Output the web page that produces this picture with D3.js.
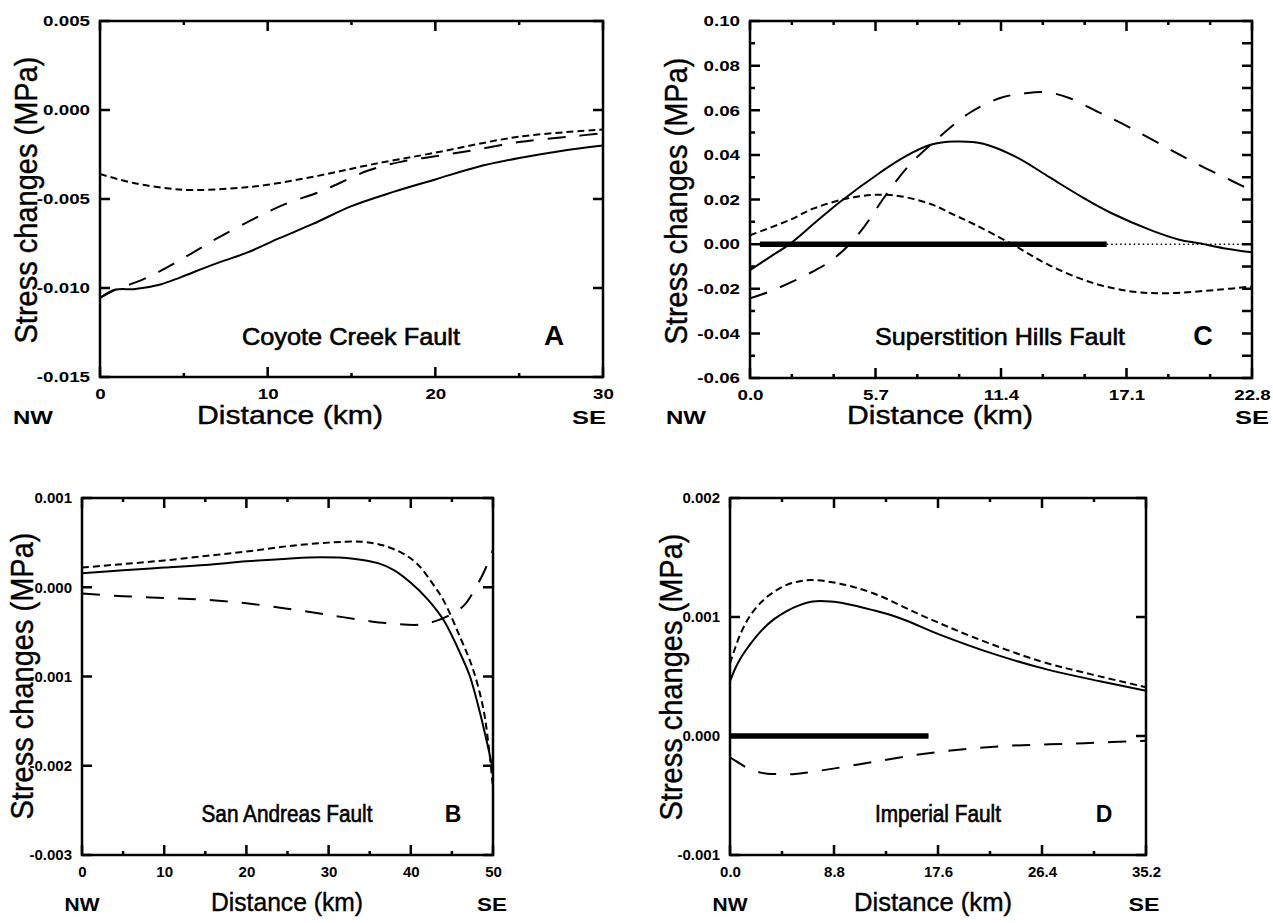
<!DOCTYPE html>
<html>
<head>
<meta charset="utf-8">
<script src="https://cdn.jsdelivr.net/npm/d3@7"></script>
<style>
  body { margin: 0; background: #fff; }
  svg text { font-family: "Liberation Sans", Arial, Helvetica, sans-serif; fill: #000; }
</style>
</head>
<body>
<svg id="fig" width="1273" height="923"></svg>
<script>
// ---- data: [distance km, stress change MPa] ----
const coyoteSolid = [[0,-0.01056],[0.9,-0.0101],[2.1,-0.01006],[3.6,-0.0098],[4.8,-0.0094],[6.7,-0.0087],[8.8,-0.0080],[10.7,-0.0072],[12.7,-0.0064],[15,-0.0054],[17.5,-0.0046],[20,-0.0039],[22.5,-0.0032],[25,-0.0027],[27.5,-0.0023],[30,-0.0020]];
const coyoteShort = [[0,-0.0036],[2,-0.0041],[4,-0.0044],[5.5,-0.0045],[8,-0.0044],[10,-0.0042],[13,-0.0037],[16,-0.0031],[20,-0.0024],[25,-0.0015],[30,-0.0011]];
const coyoteLong = [[0,-0.01056],[0.9,-0.0101],[2.2,-0.00966],[3.5,-0.0091],[5.2,-0.0082],[7,-0.0072],[9.2,-0.0061],[11,-0.0053],[13.1,-0.0046],[14.3,-0.0041],[16,-0.0034],[18,-0.0029],[20,-0.0026],[22,-0.0023],[25,-0.0018],[28,-0.0015],[30,-0.0013]];

const superSolid = [[0,-0.0117],[0.9,-0.0058],[1.8,0],[3,0.01],[4.1,0.019],[5.9,0.032],[7,0.039],[8.2,0.0445],[9.3,0.046],[10.6,0.045],[12.1,0.039],[13.6,0.030],[15.1,0.021],[16.5,0.0135],[18.2,0.0063],[19.5,0.002],[20.4,0.0004],[21.5,-0.0018],[22.8,-0.0037]];
const superShort = [[0,0.004],[1.8,0.0108],[2.9,0.016],[4.7,0.021],[6.4,0.022],[8.2,0.018],[9.1,0.0139],[10.2,0.0088],[11.9,0],[13.6,-0.0095],[15.6,-0.0175],[17.4,-0.0213],[18.9,-0.022],[21.2,-0.0205],[22.8,-0.019]];
const superLong = [[0,-0.0243],[0.8,-0.0216],[2,-0.0165],[3,-0.0115],[3.6,-0.008],[4.4,-0.0013],[5.2,0.008],[6.1,0.021],[7.2,0.035],[8.6,0.048],[10,0.059],[11.4,0.0656],[12.5,0.0676],[13.5,0.068],[14.5,0.0655],[15.8,0.0593],[17.1,0.053],[18.6,0.045],[20.2,0.0365],[21.9,0.0283],[22.8,0.024]];
const superRupture = [0.45, 16.2];
const superDotted = [16.2, 22.8];

const andreasSolid = [[0,0.000156],[5,0.00019],[10,0.00022],[15,0.00025],[20,0.00029],[25,0.00032],[29,0.000335],[33,0.00032],[36,0.00027],[38,0.00019],[40,0.00005],[42,-0.00013],[44,-0.00037],[46.4,-0.00082],[47.2,-0.001],[48.4,-0.0014],[49.3,-0.00175],[50,-0.00205]];
const andreasShort = [[0,0.00022],[5,0.00026],[10,0.0003],[15,0.00035],[20,0.0004],[25,0.00046],[30,0.0005],[34,0.00051],[36.6,0.00047],[39,0.00038],[40.7,0.00027],[42.5,0.00006],[44,-0.00015],[46,-0.00056],[47.5,-0.0009],[48.8,-0.00135],[49.5,-0.0018],[50,-0.00225]];
const andreasLong = [[0,-0.00007],[5,-0.0001],[10,-0.00012],[15,-0.00014],[20,-0.00018],[25,-0.00024],[30,-0.00031],[35,-0.00038],[38,-0.00041],[41,-0.00042],[43,-0.00038],[45,-0.0003],[46.5,-0.0002],[47.8,-0.00002],[49,0.00019],[50,0.00042]];

const imperialSolid = [[0,0.00046],[0.5,0.00058],[1,0.00067],[1.7,0.00077],[2.7,0.00089],[3.7,0.00098],[4.8,0.00105],[5.9,0.0011],[7,0.00113],[8.5,0.00113],[9.9,0.00111],[12,0.00106],[14.4,0.00099],[17.8,0.00085],[22.3,0.00069],[26.8,0.00056],[31.3,0.00046],[35.2,0.00038]];
const imperialShort = [[0,0.00061],[0.85,0.00085],[1.7,0.00101],[2.7,0.00113],[3.7,0.00121],[4.8,0.00127],[5.9,0.0013],[7,0.00131],[9.3,0.00128],[12.1,0.0012],[16.3,0.00101],[20.6,0.00083],[26.2,0.00063],[30.5,0.00052],[35.2,0.00041]];
const imperialLong = [[0,-0.00018],[0.8,-0.00023],[1.5,-0.00027],[2.7,-0.00031],[4,-0.00032],[5.5,-0.00032],[7,-0.0003],[9,-0.00027],[12,-0.00022],[15,-0.00017],[18,-0.00013],[21,-0.0001],[24,-0.00008],[27,-0.00007],[30,-0.00006],[35.2,-0.00004]];
const imperialRupture = [0, 16.8];

// ---- ticks ----
const coyoteXTicks = [0, 10, 20, 30];
const coyoteXMinor = [5, 15, 25];
const coyoteYTicks = [-0.015, -0.010, -0.005, 0.000, 0.005];
const coyoteYLabels = ['-0.015', '-0.010', '-0.005', '0.000', '0.005'];

const superXTicks = [0, 5.7, 11.4, 17.1, 22.8];
const superXLabels = ['0.0', '5.7', '11.4', '17.1', '22.8'];
const superXMinor = [1.9, 3.8, 7.6, 9.5, 13.3, 15.2, 19.0, 20.9];
const superYTicks = [-0.06, -0.04, -0.02, 0.00, 0.02, 0.04, 0.06, 0.08, 0.10];
const superYLabels = ['-0.06', '-0.04', '-0.02', '0.00', '0.02', '0.04', '0.06', '0.08', '0.10'];
const superYMinor = [-0.05, -0.03, -0.01, 0.01, 0.03, 0.05, 0.07, 0.09];

const andreasXTicks = [0, 10, 20, 30, 40, 50];
const andreasXMinor = [5, 15, 25, 35, 45];
const andreasYTicks = [-0.003, -0.002, -0.001, 0.000, 0.001];
const andreasYLabels = ['-0.003', '-0.002', '-0.001', '0.000', '0.001'];

const imperialXTicks = [0, 8.8, 17.6, 26.4, 35.2];
const imperialXLabels = ['0.0', '8.8', '17.6', '26.4', '35.2'];
const imperialXMinor = [4.4, 13.2, 22.0, 30.8];
const imperialYTicks = [-0.001, 0.000, 0.001, 0.002];
const imperialYLabels = ['-0.001', '0.000', '0.001', '0.002'];

const faultNames = ['Coyote Creek Fault', 'Superstition Hills Fault', 'San Andreas Fault', 'Imperial Fault'];
const panelLetters = ['A', 'C', 'B', 'D'];

// ---- layout ----
const svg = d3.select('#fig');

const panels = [
  { key: 'a', left: 100, top: 21, right: 603, bottom: 377, xDomain: [0, 30], yDomain: [-0.015, 0.005],
    xTicks: coyoteXTicks, xLabels: coyoteXTicks.map(String), xMinor: coyoteXMinor,
    yTicks: coyoteYTicks, yLabels: coyoteYLabels, yMinor: [],
    series: [coyoteSolid, coyoteShort, coyoteLong], stretch: 1.25,
    name: faultNames[0], nameX: 351, nameLen: 218, nameSize: 24, letter: panelLetters[0], letterX: 554, letterSize: 28, textY: 345,
    yLabX: 37, yLabY: 200, xLabY: 424, nwX: 33, distX: 290, seX: 589, distLen: 186, nwLen: 40, seLen: 34 },
  { key: 'c', left: 750, top: 21, right: 1252, bottom: 378, xDomain: [0, 22.8], yDomain: [-0.06, 0.10],
    xTicks: superXTicks, xLabels: superXLabels, xMinor: superXMinor,
    yTicks: superYTicks, yLabels: superYLabels, yMinor: superYMinor, rightMinorLong: true,
    series: [superSolid, superShort, superLong], stretch: 1.25,
    rupture: superRupture, dotted: superDotted,
    name: faultNames[1], nameX: 1000, nameLen: 250, nameSize: 24, letter: panelLetters[1], letterX: 1203, letterSize: 27, textY: 345,
    yLabX: 687, yLabY: 201, xLabY: 424, nwX: 686, distX: 940, seX: 1252, distLen: 186, nwLen: 40, seLen: 34 },
  { key: 'b', left: 82, top: 498, right: 493, bottom: 855, xDomain: [0, 50], yDomain: [-0.003, 0.001],
    xTicks: andreasXTicks, xLabels: andreasXTicks.map(String), xMinor: andreasXMinor,
    yTicks: andreasYTicks, yLabels: andreasYLabels, yMinor: [],
    series: [andreasSolid, andreasShort, andreasLong], stretch: 1,
    name: faultNames[2], nameX: 287, nameLen: 171, nameSize: 23, letter: panelLetters[2], letterX: 453, letterSize: 23, textY: 822,
    yLabX: 33, yLabY: 676, xLabY: 911, nwX: 82, distX: 287, seX: 492, distLen: 152, nwLen: 35, seLen: 30 },
  { key: 'd', left: 730, top: 498, right: 1146, bottom: 855, xDomain: [0, 35.2], yDomain: [-0.001, 0.002],
    xTicks: imperialXTicks, xLabels: imperialXLabels, xMinor: imperialXMinor,
    yTicks: imperialYTicks, yLabels: imperialYLabels, yMinor: [],
    series: [imperialSolid, imperialShort, imperialLong], stretch: 1,
    rupture: imperialRupture,
    name: faultNames[3], nameX: 938, nameLen: 126, nameSize: 23, letter: panelLetters[3], letterX: 1104, letterSize: 23, textY: 822,
    yLabX: 682, yLabY: 677, xLabY: 911, nwX: 730, distX: 933, seX: 1144, distLen: 158, nwLen: 35, seLen: 31 }
];

const dashes = [null, '7,4', '18,14'];

const squeeze = (sel, k) => sel.each(function () {
  if (k === 1) return;
  const w = this.getComputedTextLength();
  d3.select(this).attr('textLength', w * k).attr('lengthAdjust', 'spacingAndGlyphs');
});

const styleAxis = (g) => {
  g.select('.domain').remove();
  g.selectAll('.tick line').remove();
  g.selectAll('text').attr('font-size', 15).attr('font-weight', 'bold').attr('fill', '#000')
    .attr('font-family', '"Liberation Sans", Arial, sans-serif');
};

const drawPanel = (p) => {
  const x = d3.scaleLinear().domain(p.xDomain).range([p.left, p.right]);
  const y = d3.scaleLinear().domain(p.yDomain).range([p.bottom, p.top]);
  const g = svg.append('g');

  g.append('clipPath').attr('id', 'clip-' + p.key)
    .append('rect').attr('x', p.left).attr('y', p.top)
    .attr('width', p.right - p.left).attr('height', p.bottom - p.top);

  // tick marks, pointing into the frame on all four sides
  const tp = d3.path();
  const hTicks = (vals, yPos, len) => vals.forEach(v => { tp.moveTo(x(v), yPos); tp.lineTo(x(v), yPos + len); });
  const vTicks = (vals, xPos, len) => vals.forEach(v => { tp.moveTo(xPos, y(v)); tp.lineTo(xPos + len, y(v)); });
  hTicks(p.xMinor, p.bottom, -4);
  hTicks(p.xMinor, p.top, 4);
  hTicks(p.xTicks, p.bottom, -10);
  hTicks(p.xTicks, p.top, 10);
  vTicks(p.yMinor, p.left, 5);
  vTicks(p.yMinor, p.right, p.rightMinorLong ? -10 : -5);
  vTicks(p.yTicks, p.left, 10);
  vTicks(p.yTicks, p.right, -10);
  g.append('path').attr('d', tp.toString())
    .attr('fill', 'none').attr('stroke', '#000').attr('stroke-width', 2.5);

  // tick labels
  const bottomAx = g.append('g').attr('transform', `translate(0,${p.bottom})`)
    .call(d3.axisBottom(x).tickValues(p.xTicks).tickSize(0).tickPadding(11)
      .tickFormat((d, i) => p.xLabels[i]));
  const leftAx = g.append('g').attr('transform', `translate(${p.left},0)`)
    .call(d3.axisLeft(y).tickValues(p.yTicks).tickSize(0).tickPadding(10)
      .tickFormat((d, i) => p.yLabels[i]));
  [bottomAx, leftAx].forEach(styleAxis);
  squeeze(bottomAx.selectAll('text'), p.stretch);
  squeeze(leftAx.selectAll('text'), p.stretch);

  // rupture segment
  if (p.rupture) {
    g.append('line')
      .attr('x1', x(p.rupture[0])).attr('x2', x(p.rupture[1]))
      .attr('y1', y(0)).attr('y2', y(0))
      .attr('stroke', '#000').attr('stroke-width', 5.5);
  }
  if (p.dotted) {
    g.append('line')
      .attr('x1', x(p.dotted[0])).attr('x2', x(p.dotted[1]))
      .attr('y1', y(0)).attr('y2', y(0))
      .attr('stroke', '#000').attr('stroke-width', 1.5).attr('stroke-dasharray', '1.5,3');
  }

  // curves
  const line = d3.line().x(d => x(d[0])).y(d => y(d[1])).curve(d3.curveCatmullRom.alpha(0.5));
  g.append('g').attr('clip-path', `url(#clip-${p.key})`)
    .selectAll('path')
    .data(p.series)
    .join('path')
      .attr('d', line)
      .attr('fill', 'none')
      .attr('stroke', '#000')
      .attr('stroke-width', 2)
      .attr('stroke-dasharray', (d, i) => dashes[i]);

  // frame
  g.append('rect')
    .attr('x', p.left).attr('y', p.top)
    .attr('width', p.right - p.left).attr('height', p.bottom - p.top)
    .attr('fill', 'none').attr('stroke', '#000').attr('stroke-width', 2.5);

  // texts inside
  g.append('text').attr('x', p.nameX).attr('y', p.textY)
    .attr('text-anchor', 'middle').attr('font-size', p.nameSize)
    .attr('stroke', '#000').attr('stroke-width', 0.6)
    .attr('textLength', p.nameLen).attr('lengthAdjust', 'spacingAndGlyphs')
    .text(p.name);
  g.append('text').attr('x', p.letterX).attr('y', p.textY)
    .attr('text-anchor', 'middle').attr('font-size', p.letterSize).attr('font-weight', 'bold')
    .text(p.letter);

  // axis titles
  g.append('text')
    .attr('transform', `translate(${p.yLabX},${p.yLabY}) rotate(-90)`)
    .attr('text-anchor', 'middle').attr('font-size', 31)
    .attr('stroke', '#000').attr('stroke-width', 0.4)
    .attr('textLength', 287).attr('lengthAdjust', 'spacingAndGlyphs')
    .text('Stress changes (MPa)');
  g.append('text').attr('x', p.distX).attr('y', p.xLabY)
    .attr('text-anchor', 'middle').attr('font-size', 25)
    .attr('stroke', '#000').attr('stroke-width', 0.4)
    .attr('textLength', p.distLen).attr('lengthAdjust', 'spacingAndGlyphs')
    .text('Distance (km)');
  g.append('text').attr('x', p.nwX).attr('y', p.xLabY)
    .attr('text-anchor', 'middle').attr('font-size', 19).attr('font-weight', 'bold')
    .attr('textLength', p.nwLen).attr('lengthAdjust', 'spacingAndGlyphs')
    .text('NW');
  g.append('text').attr('x', p.seX).attr('y', p.xLabY)
    .attr('text-anchor', 'middle').attr('font-size', 19).attr('font-weight', 'bold')
    .attr('textLength', p.seLen).attr('lengthAdjust', 'spacingAndGlyphs')
    .text('SE');
};

panels.forEach(drawPanel);
</script>
</body>
</html>
